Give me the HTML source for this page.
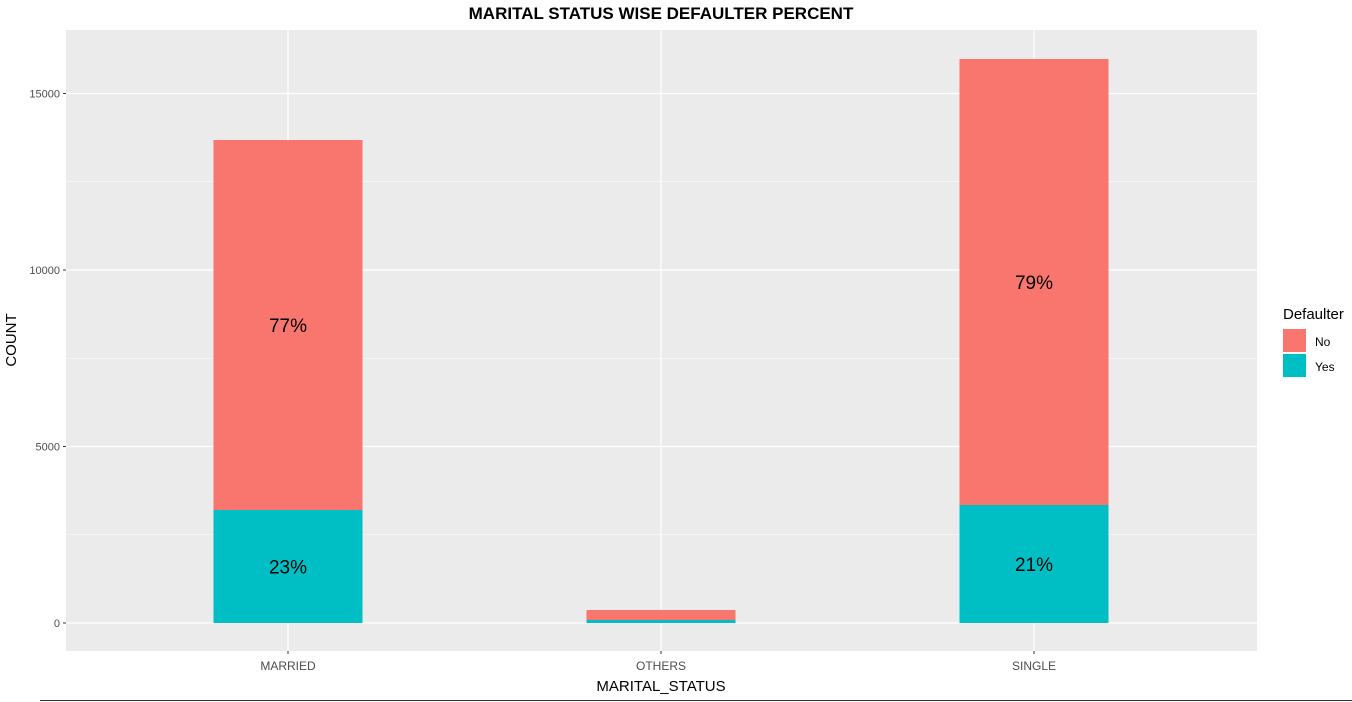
<!DOCTYPE html>
<html><head><meta charset="utf-8"><style>
html,body{margin:0;padding:0;background:#fff;}
svg{display:block;font-family:"Liberation Sans",Arial,sans-serif;}
</style></head><body>
<svg id="chart" width="1352" height="702" viewBox="0 0 1352 702">
<rect x="0" y="0" width="1352" height="702" fill="#fff"/>
<text x="661" y="19" text-anchor="middle" font-size="17" font-weight="bold" fill="#000">MARITAL STATUS WISE DEFAULTER PERCENT</text>
<rect x="66" y="30" width="1191" height="621" fill="#ebebeb"/>
<g id="grid"></g>
<g id="bars"></g>
<g id="axes"></g>
<text x="661" y="691" text-anchor="middle" font-size="15" fill="#000">MARITAL_STATUS</text>
<text transform="translate(16,340) rotate(-90)" text-anchor="middle" font-size="15" fill="#000">COUNT</text>
<g>
<text x="1283" y="319" font-size="15" fill="#000">Defaulter</text>
<rect x="1283" y="329" width="23" height="23" fill="#f8766d"/>
<text x="1315" y="346" font-size="12" fill="#000">No</text>
<rect x="1283" y="354" width="23" height="23" fill="#00bfc4"/>
<text x="1315" y="371" font-size="12" fill="#000">Yes</text>
</g>
<line x1="40" y1="700.5" x2="1352" y2="700.5" stroke="#333" stroke-width="1"/>
</svg>
<script>
const categories = ["MARRIED", "OTHERS", "SINGLE"];
const yesValues = [3201, 85, 3343];
const noValues = [10482, 283, 12634];
const yesLabels = ["23%", "", "21%"];
const noLabels = ["77%", "", "79%"];
const yTicks = [0, 5000, 10000, 15000];

const NS = "http://www.w3.org/2000/svg";
const y0 = 623, pxPer = 176.5 / 5000;
const yScale = v => y0 - v * pxPer;
const xCenter = i => 288 + i * 373;
const bw = 149;
function mk(tag, attrs, parent) {
  const e = document.createElementNS(NS, tag);
  for (const k in attrs) e.setAttribute(k, attrs[k]);
  parent.appendChild(e);
  return e;
}
const grid = document.getElementById("grid");
const bars = document.getElementById("bars");
const axes = document.getElementById("axes");
// minor grid
for (let i = 0; i < yTicks.length; i++) {
  const v = yTicks[i] + 2500;
  const y = yScale(v);
  if (y > 30) {
    const l = mk("line", {x1: 66, x2: 1257, y1: y, y2: y, stroke: "#fff", "stroke-width": 0.6}, grid);
    
    
  }
}
yTicks.forEach(v => {
  const y = yScale(v);
  const l = mk("line", {x1: 66, x2: 1257, y1: y, y2: y, stroke: "#fff", "stroke-width": 1.2}, grid);
  
  
  const t = mk("text", {x: 60, y: y + 4, "text-anchor": "end", "font-size": 11, fill: "#4d4d4d"}, axes);
  t.textContent = v;
  
  
  const tk = mk("line", {x1: 63, x2: 66, y1: y, y2: y, stroke: "#333"}, axes);
  
  
});
categories.forEach((c, i) => {
  const x = xCenter(i);
  const l = mk("line", {x1: x, x2: x, y1: 30, y2: 651, stroke: "#fff", "stroke-width": 1.2}, grid);
  
  
  const tk = mk("line", {x1: x, x2: x, y1: 651, y2: 654, stroke: "#333"}, axes);
  
  
  const t = mk("text", {x: x, y: 670, "text-anchor": "middle", "font-size": 12, fill: "#4d4d4d"}, axes);
  t.textContent = c;
  
  

  const yTop = yScale(yesValues[i]);
  const r1 = mk("rect", {x: x - bw / 2, y: yTop, width: bw, height: y0 - yTop, fill: "#00bfc4"}, bars);
  
  
  const nTop = yScale(yesValues[i] + noValues[i]);
  const r2 = mk("rect", {x: x - bw / 2, y: nTop, width: bw, height: yTop - nTop, fill: "#f8766d"}, bars);
  
  
  if (yesLabels[i]) {
    const t1 = mk("text", {x: x, y: yScale(yesValues[i] / 2) + 7, "text-anchor": "middle", "font-size": 19, fill: "#000"}, bars);
    t1.textContent = yesLabels[i];
    
    
  }
  if (noLabels[i]) {
    const t2 = mk("text", {x: x, y: yScale(yesValues[i] + noValues[i] / 2) + 7, "text-anchor": "middle", "font-size": 19, fill: "#000"}, bars);
    t2.textContent = noLabels[i];
    
    
  }
});
</script>
</body></html>
